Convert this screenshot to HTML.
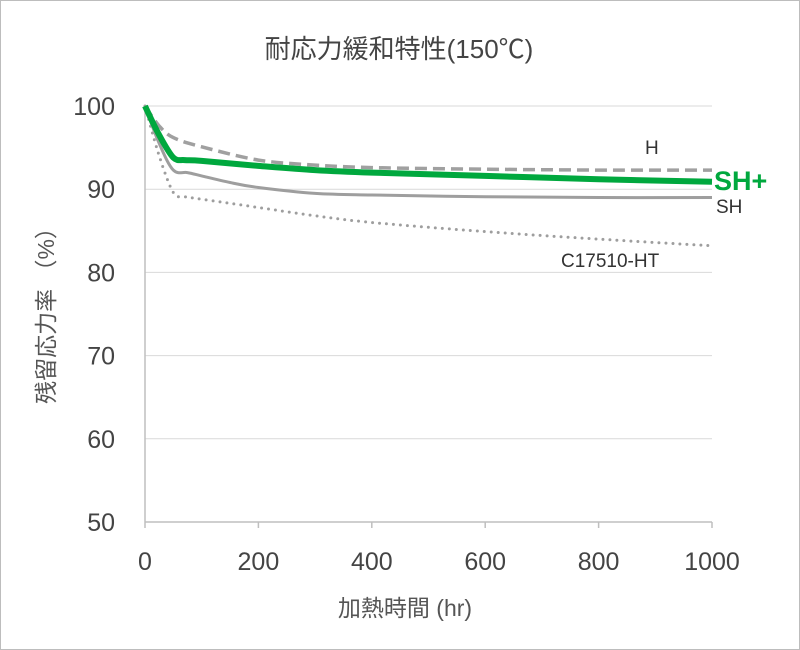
<!DOCTYPE html>
<html><head><meta charset="utf-8"><style>
html,body{margin:0;padding:0;background:#fff}
svg{display:block;font-family:"Liberation Sans","Noto Sans CJK JP",sans-serif}
</style></head><body>
<svg id="chart" width="800" height="650" viewBox="0 0 800 650">
<rect x="0.5" y="0.5" width="799" height="649" fill="#fff" stroke="#bdbdbd"/>
<text x="399" y="58" text-anchor="middle" font-size="26" fill="#444">耐応力緩和特性(150℃)</text>
<text transform="translate(54,310) rotate(-90)" text-anchor="middle" font-size="23" fill="#555">残留応力率 （%）</text>
<text x="405" y="616" text-anchor="middle" font-size="23" fill="#555">加熱時間 (hr)</text>
<g id="grid"></g><g id="axes"></g><g id="series"></g><g id="labels"></g>
</svg>
<script>
const xTicks=[0,200,400,600,800,1000];
const yTicks=[50,60,70,80,90,100];
const hX=[0,25,50,100,200,300,400,600,800,1000];
const hY=[100,97.6,96.2,95.1,93.5,92.9,92.6,92.4,92.3,92.3];
const shpX=[0,25,50,70,100,200,300,400,600,800,1000];
const shpY=[100,96.5,93.8,93.5,93.4,92.8,92.3,92.0,91.6,91.2,90.9];
const shX=[0,25,50,75,100,150,200,300,400,600,800,1000];
const shY=[100,95.5,92.3,92.0,91.6,90.8,90.2,89.5,89.3,89.1,89.0,89.0];
const cX=[0,25,50,70,100,200,300,400,600,800,1000];
const cY=[100,94,89.6,89.1,88.8,87.8,86.8,86.0,84.9,84.0,83.2];
const X0=145,X1=712,Y0=522,Y1=106;
const sx=v=>X0+(v-0)/(1000-0)*(X1-X0);
const sy=v=>Y0-(v-50)/(100-50)*(Y0-Y1);
const NS="http://www.w3.org/2000/svg";
function mk(tag,attrs,parent){const e=document.createElementNS(NS,tag);for(const k in attrs)e.setAttribute(k,attrs[k]);document.getElementById(parent).appendChild(e);return e;}
yTicks.forEach(t=>{
  if(t>50){const g=mk('line',{x1:X0,x2:X1,y1:sy(t),y2:sy(t),stroke:'#d9d9d9','stroke-width':1},'grid');
  
  }
  const l=mk('text',{x:X0-30,y:sy(t)+9,'text-anchor':'end','font-size':25,fill:'#444'},'axes');
  l.textContent=t;
  
  
});
const ax=mk('line',{x1:X0,x2:X1,y1:Y0,y2:Y0,stroke:'#bfbfbf','stroke-width':1.5},'axes');


const ay=mk('line',{x1:X0,x2:X0,y1:Y1,y2:Y0,stroke:'#bfbfbf','stroke-width':1.5},'axes');


xTicks.forEach(t=>{
  const tk=mk('line',{x1:sx(t),x2:sx(t),y1:Y0,y2:Y0+6,stroke:'#bfbfbf','stroke-width':1.5},'axes');
  
  
  const l=mk('text',{x:sx(t),y:Y0+48,'text-anchor':'middle','font-size':25,fill:'#444'},'axes');
  l.textContent=t;
  
  
});
function path(xs,ys){
  const p=xs.map((x,i)=>[sx(x),sy(ys[i])]);
  let d='M'+p[0][0].toFixed(1)+','+p[0][1].toFixed(1);
  for(let i=0;i<p.length-1;i++){
    const p0=p[Math.max(i-1,0)],p1=p[i],p2=p[i+1],p3=p[Math.min(i+2,p.length-1)];
    const k=i===0?0:1/6;
    const c1=[p1[0]+(p2[0]-p0[0])*k,p1[1]+(p2[1]-p0[1])*k];
    const c2=[p2[0]-(p3[0]-p1[0])/6,p2[1]-(p3[1]-p1[1])/6];
    d+='C'+c1[0].toFixed(1)+','+c1[1].toFixed(1)+' '+c2[0].toFixed(1)+','+c2[1].toFixed(1)+' '+p2[0].toFixed(1)+','+p2[1].toFixed(1);
  }
  return d;
}
const pc=mk('path',{d:path(cX,cY),fill:'none',stroke:'#9e9e9e','stroke-width':3,'stroke-dasharray':'0 7','stroke-linecap':'round'},'series');


const ps=mk('path',{d:path(shX,shY),fill:'none',stroke:'#9e9e9e','stroke-width':3,'stroke-linejoin':'round'},'series');


const ph=mk('path',{d:path(hX,hY),fill:'none',stroke:'#a0a0a0','stroke-width':3.5,'stroke-dasharray':'12 6'},'series');


const pp=mk('path',{d:path(shpX,shpY),fill:'none',stroke:'#00a83e','stroke-width':6,'stroke-linejoin':'round'},'series');


const labs=[['H',645,154,19,'#333','normal','label-h'],['SH+',714,190,27,'#00a83e','bold','label-sh-plus'],['SH',716,213,19,'#333','normal','label-sh'],['C17510-HT',561,267,19,'#333','normal','label-c17510-ht']];
labs.forEach(a=>{
  const t=mk('text',{x:a[1],y:a[2],'font-size':a[3],fill:a[4],'font-weight':a[5]},'labels');
  t.textContent=a[0];
  
  
});
</script>
</body></html>
